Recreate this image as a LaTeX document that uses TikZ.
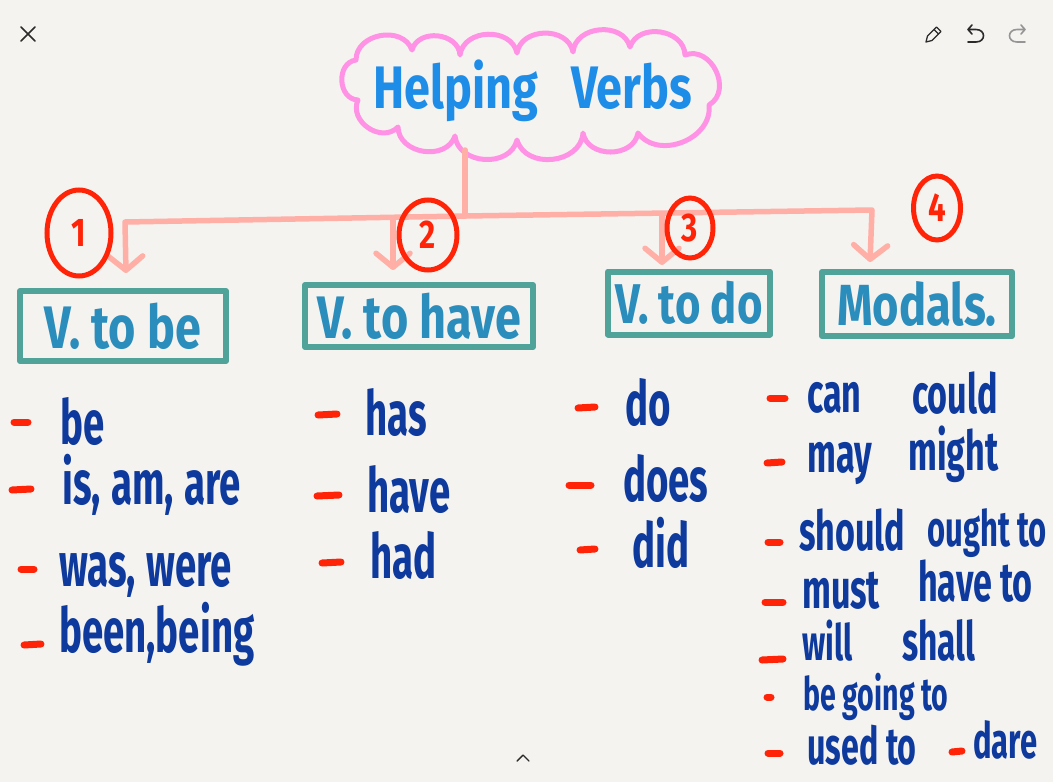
\documentclass[tikz,border=0pt]{standalone}
\usepackage{fontspec}
\setmainfont{Fira Sans}
\newfontfamily\handA[FakeStretch=0.62]{Fira Sans}
\newfontfamily\handB[FakeStretch=0.78]{Fira Sans}
\usetikzlibrary{arrows.meta,shapes.geometric}
\definecolor{bg}{HTML}{F5F3F0}
\definecolor{cloudpink}{HTML}{FF92E4}
\definecolor{titleblue}{HTML}{1E8DE8}
\definecolor{salmon}{HTML}{FFAFA6}
\definecolor{redmark}{HTML}{FF2408}
\definecolor{teal}{HTML}{50A398}
\definecolor{boxblue}{HTML}{2A8DBB}
\definecolor{navy}{HTML}{0D3A9C}
\definecolor{uigrey}{HTML}{2A2A2A}
\begin{document}
\begin{tikzpicture}[x=1pt,y=-1pt,
  cloudline/.style={draw=cloudpink,line width=5pt,line cap=round,line join=round},
  conn/.style={draw=salmon,line width=5.5pt,line cap=round,line join=round},
  tip/.style={-{Straight Barb[length=14pt,width=34pt,round]}},
  numcirc/.style={ellipse,draw=redmark,line width=5pt,inner sep=0pt,text=redmark,
    font=\handB\bfseries\fontsize{40}{40}\selectfont},
  catbox/.style={rectangle,draw=teal,line width=6pt,line join=round,inner sep=0pt,
    text=boxblue,font=\handB\bfseries\fontsize{60}{60}\selectfont},
  item/.style={anchor=base west,inner sep=0pt,text=navy,
    font=\handA\bfseries\fontsize{62}{62}\selectfont},
  mitem/.style={item,font=\handA\bfseries\fontsize{55}{55}\selectfont},
  reddash/.style={draw=redmark,line width=7pt,line cap=round},
  ui/.style={draw=uigrey,line width=1.6pt,line cap=round,line join=round}
]
\useasboundingbox (0,0) rectangle (1053,782);
\fill[bg] (0,0) rectangle (1053,782);

% UI icons
\draw[ui] (21,27) -- (35,41) (35,27) -- (21,41);
\draw[ui,line width=1.3pt] (926,42) -- (927.5,36) -- (936.5,27) -- (941,31.5) -- (932,40.5) -- cycle (934,29.5) -- (938.5,34);
\draw[ui] (972,25) -- (968,29.5) -- (972,34) (968,29.5) -- (976,29.5) .. controls (986,29.5) and (986,42) .. (976,42) -- (968,42);
\draw[ui,draw=uigrey!50] (1021,25) -- (1025,29.5) -- (1021,34) (1025,29.5) -- (1017,29.5) .. controls (1007,29.5) and (1007,42) .. (1017,42) -- (1025,42);
\draw[ui,line width=1.4pt] (517,761) -- (523,755) -- (529,761);

% cloud
\draw[cloudline] (356,60)
  to[bend left=80,looseness=1.2] (412,50)
  to[bend left=80,looseness=1.2] (460,55)
  to[bend left=80,looseness=1.2] (517,53)
  to[bend left=80,looseness=1.2] (573,52)
  to[bend left=80,looseness=1.2] (630,47)
  to[bend left=80,looseness=1.2] (685,55)
  to[bend left=85,looseness=1.3] (709,105)
  to[bend left=75,looseness=1.15] (638,133)
  to[bend left=80,looseness=1.2] (583,133)
  to[bend left=80,looseness=1.2] (517,140)
  to[bend left=80,looseness=1.2] (455,136)
  to[bend left=80,looseness=1.2] (398,127)
  to[bend left=80,looseness=1.25] (358,100)
  to[bend left=85,looseness=1.3] (356,60);
\node[anchor=base west,inner sep=0pt,text=titleblue,font=\handB\bfseries\fontsize{60}{60}\selectfont]
  (title) at (373,108) {Helping\hspace{33pt}Verbs};

% connectors
\coordinate (cb) at (465,150);
\coordinate (jm) at (465,216);
\coordinate (hL) at (125,222);
\coordinate (hR) at (872,210);
\coordinate (j2) at (393,219);
\coordinate (j3) at (662,214);
\coordinate (t1) at (126,273);
\coordinate (t2) at (393,270);
\coordinate (t3) at (662,265);
\coordinate (t4) at (870,262);
\draw[conn] (cb) -- (jm);
\draw[conn,tip] (jm) -- (hL) -- (t1);
\draw[conn,tip] (jm) -- (hR) -- (t4);
\draw[conn,tip] (j2) -- (t2);
\draw[conn,tip] (j3) -- (t3);

% numbers
\node[numcirc,minimum width=64pt,minimum height=86pt] (n1) at (79,233) {1};
\node[numcirc,minimum width=58pt,minimum height=70pt] (n2) at (428,235) {2};
\node[numcirc,minimum width=46pt,minimum height=60pt] (n3) at (690,228) {3};
\node[numcirc,minimum width=47pt,minimum height=64pt] (n4) at (937,208) {4};

% category boxes
\node[catbox,minimum width=206pt,minimum height=70pt] (b1) at (123,326) {V. to be};
\node[catbox,minimum width=228pt,minimum height=62pt] (b2) at (419,316) {V. to have};
\node[catbox,minimum width=162pt,minimum height=63pt,font=\handB\bfseries\fontsize{56}{56}\selectfont] (b3) at (689,303) {V. to do};
\node[catbox,minimum width=190pt,minimum height=64pt,font=\handB\bfseries\fontsize{58}{58}\selectfont] (b4) at (917,304) {Modals.};

% column 1
\draw[reddash] (14,422) -- (28,422);
\draw[reddash] (12,490) -- (31,489);
\draw[reddash] (21,569) -- (34,569);
\draw[reddash] (24,645) -- (41,644);
\node[item] (a1) at (60,444) {be};
\node[item] (a2) at (62,504) {is,\,am,\,are};
\node[item] (a3) at (59,586) {was,\,were};
\node[item] (a4) at (59,652) {been,being};

% column 2
\draw[reddash] (318,415) -- (337,414);
\draw[reddash] (317,496) -- (339,495);
\draw[reddash] (322,563) -- (341,562);
\node[item] (h1) at (365,435) {has};
\node[item] (h2) at (367,512) {have};
\node[item] (h3) at (370,578) {had};

% column 3
\draw[reddash] (578,408) -- (595,407);
\draw[reddash] (569,485) -- (591,485);
\draw[reddash] (580,550) -- (595,549);
\node[item] (d1) at (625,425) {do};
\node[item] (d2) at (623,501) {does};
\node[item] (d3) at (632,567) {did};

% column 4
\draw[reddash] (770,398) -- (785,398);
\draw[reddash] (767,463) -- (782,462);
\draw[reddash] (768,542) -- (780,542);
\draw[reddash] (765,602) -- (783,602);
\draw[reddash] (762,660) -- (783,659);
\draw[reddash] (767,697) -- (771,697);
\draw[reddash] (768,753) -- (780,753);
\draw[reddash] (952,752) -- (962,751);
\node[mitem] (m1) at (807,412) {can};
\node[mitem] (m2) at (912,413) {could};
\node[mitem] (m3) at (807,472) {may};
\node[mitem] (m4) at (908,470) {might};
\node[mitem] (m5) at (799,550) {should};
\node[mitem,font=\handA\bfseries\fontsize{50}{50}\selectfont] (m6) at (927,546) {ought to};
\node[mitem] (m7) at (802,608) {must};
\node[mitem] (m8) at (918,601) {have to};
\node[mitem,font=\handA\bfseries\fontsize{50}{50}\selectfont] (m9) at (802,660) {will};
\node[mitem,font=\handA\bfseries\fontsize{54}{54}\selectfont] (m10) at (902,660) {shall};
\node[mitem,font=\handA\bfseries\fontsize{46}{46}\selectfont] (m11) at (803,710) {be going to};
\node[mitem,font=\handA\bfseries\fontsize{52}{52}\selectfont] (m12) at (807,764) {used to};
\node[mitem,font=\handA\bfseries\fontsize{50}{50}\selectfont] (m13) at (973,758) {dare};
\end{tikzpicture}
\end{document}
